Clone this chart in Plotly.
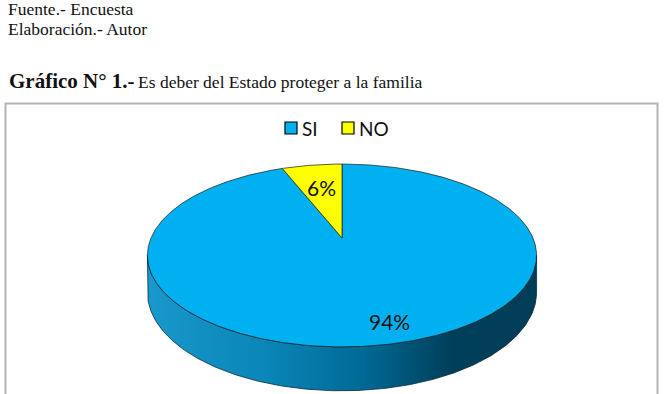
import numpy as np
import plotly.graph_objects as go

# ---- data ----
categories = ["SI", "NO"]
values = [94, 6]
label_texts = ["94%", "6%"]
slice_colors = ["#00B0F0", "#FFFF00"]
source_lines = ["Fuente.- Encuesta", "Elaboración.- Autor"]
fig_label = "Gráfico N° 1.-"
fig_title = "Es deber del Estado proteger a la familia"

# ---- geometry of the 3D pie (pixel axes) ----
W, H = 665, 394
CX, CY = 342.0, 238.0       # apex (center of top disc)
B, A = 191.0, 88.1          # horizontal / vertical radii
K = -0.191                  # perspective factor
D0 = 35.5                   # depth of the disc side

SERIF = "Liberation Serif, Times New Roman, serif"


def proj(theta_deg, r=1.0):
    t = np.radians(theta_deg)
    u = np.sin(t) * r
    v = -np.cos(t) * r
    s = 1.0 + K * v
    return CX + B * u / s, CY + A * v / s, s


fig = go.Figure()

# side of the disc (front half)
te = np.degrees(np.arccos(K))
ths = np.linspace(te, 360 - te, 200)
xt, yt, st = proj(ths)
yb = yt + D0 / st
side_x = np.concatenate([xt, xt[::-1], xt[:1]])
side_y = np.concatenate([yt, yb[::-1], yt[:1]])
fig.add_trace(go.Scatter(
    x=side_x, y=side_y, mode="lines", fill="toself",
    line=dict(color="#0a2a3a", width=0.8),
    fillgradient=dict(type="horizontal",
                      colorscale=[[0, "#1898cb"], [0.3, "#0a86b8"],
                                  [0.55, "#006a96"], [0.78, "#003f5a"],
                                  [1, "#003e58"]]),
    hoverinfo="skip", showlegend=False))

# top slices (start at 12 o'clock, clockwise)
total = float(sum(values))
start = 0.0
mids = []
for cat, val, col in zip(categories, values, slice_colors):
    sweep = 360.0 * val / total
    th = np.linspace(start, start + sweep, max(int(sweep * 2), 8))
    x, y, _ = proj(th)
    fig.add_trace(go.Scatter(
        x=np.concatenate([[CX], x, [CX]]),
        y=np.concatenate([[CY], y, [CY]]),
        mode="lines", fill="toself", fillcolor=col,
        line=dict(color="#1a1a1a", width=0.7),
        name=cat, hoverinfo="skip", showlegend=False))
    mids.append(start + sweep / 2)
    start += sweep

# data labels
label_r = [0.83, 0.65]
label_shift = [-4.0, 0.0]
for txt, m, r, sh in zip(label_texts, mids, label_r, label_shift):
    lx, ly, _ = proj(m + sh, r)
    fig.add_annotation(x=float(lx), y=float(ly), text=txt, showarrow=False,
                       font=dict(family="Lato", size=21, color="#111111"),
                       xanchor="center", yanchor="middle")

# legend (manual, Excel style)
lx0 = 285
for cat, col in zip(categories, slice_colors):
    fig.add_shape(type="rect", x0=lx0, x1=lx0 + 12, y0=122, y1=134,
                  fillcolor=col, line=dict(color="#000000", width=1.2))
    fig.add_annotation(x=lx0 + 15, y=128, text=cat, showarrow=False,
                       xanchor="left", yanchor="middle",
                       font=dict(family="Lato", size=19, color="#111111"))
    lx0 += 57

# chart frame
fig.add_shape(type="rect", x0=5.5, x1=657.5, y0=103.5, y1=410,
              line=dict(color="#b4b4b4", width=2), fillcolor="rgba(0,0,0,0)",
              layer="below")

# page texts
for i, t in enumerate(source_lines):
    fig.add_annotation(x=6, y=9 + 20 * i, text=t, showarrow=False,
                       xanchor="left", yanchor="middle",
                       font=dict(family=SERIF, size=17.5, color="#111111"))
fig.add_annotation(x=7, y=81, text="<b>" + fig_label + "</b>", showarrow=False,
                   xanchor="left", yanchor="middle",
                   font=dict(family=SERIF, size=21, color="#111111"))
fig.add_annotation(x=136, y=81.5, text=fig_title, showarrow=False,
                   xanchor="left", yanchor="middle",
                   font=dict(family=SERIF, size=17.5, color="#111111"))

fig.update_layout(
    width=W, height=H, margin=dict(l=0, r=0, t=0, b=0),
    paper_bgcolor="white", plot_bgcolor="white",
    xaxis=dict(range=[0, W], visible=False, fixedrange=True),
    yaxis=dict(range=[H, 0], visible=False, fixedrange=True),
    showlegend=False,
)

fig.write_html("out.html")
